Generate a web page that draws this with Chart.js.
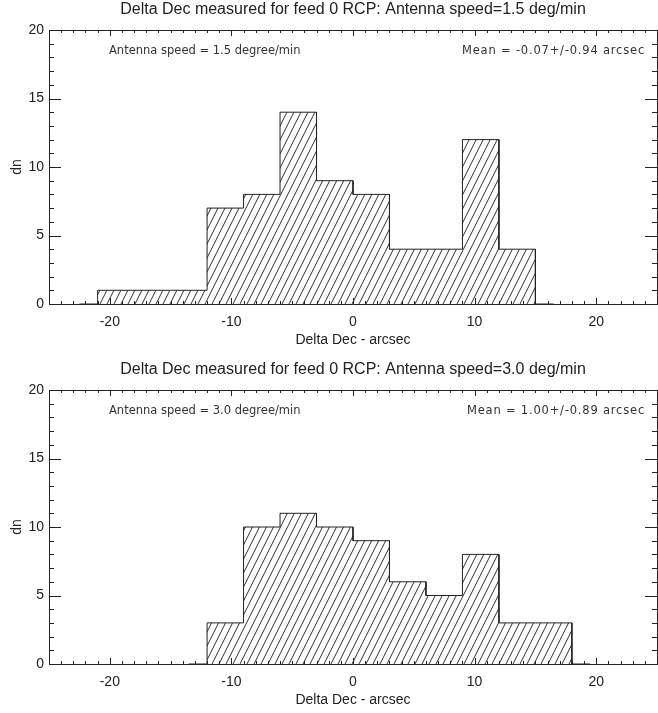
<!DOCTYPE html>
<html>
<head>
<meta charset="utf-8">
<script src="https://cdn.jsdelivr.net/npm/chart.js@4.4.1/dist/chart.umd.min.js"></script>
<style>
  html, body { margin: 0; padding: 0; background: #fff; width: 658px; height: 713px; overflow: hidden; }
  .panel { position: absolute; left: 0; width: 658px; height: 360px; }
  #p1 { top: 0; }
  #p2 { top: 360px; }
</style>
</head>
<body>
<div class="panel" id="p1"><canvas id="c1" width="658" height="360"></canvas></div>
<div class="panel" id="p2"><canvas id="c2" width="658" height="360"></canvas></div>
<script>
// ---- data ----
const binWidth = 3;
const edgesTop = [-21, -18, -15, -12, -9, -6, -3, 0, 3, 6, 9, 12];
const countsTop = [1, 1, 1, 7, 8, 14, 9, 8, 4, 4, 12, 4];
const edgesBottom = [-12, -9, -6, -3, 0, 3, 6, 9, 12, 15];
const countsBottom = [3, 10, 11, 10, 9, 6, 5, 8, 3, 3];
const xTickValues = [-20, -10, 0, 10, 20];
const yTickValues = [0, 5, 10, 15, 20];
const xRange = [-25, 25];
const yRange = [0, 20];
const titles = [
  'Delta Dec measured for feed 0 RCP: Antenna speed=1.5 deg/min',
  'Delta Dec measured for feed 0 RCP: Antenna speed=3.0 deg/min'
];
const speedNotes = ['Antenna speed = 1.5 degree/min', 'Antenna speed = 3.0 degree/min'];
const meanNotes = ['Mean = -0.07+/-0.94 arcsec', 'Mean = 1.00+/-0.89 arcsec'];
const xTitle = 'Delta Dec - arcsec';
const yTitle = 'dn';

const INK = '#222';
const NARROW = "'Liberation Sans Narrow', 'Arial Narrow', 'Liberation Sans', Arial, sans-serif";

function hatchPattern(ctx) {
  const w = 7, h = 14;
  const t = document.createElement('canvas');
  t.width = w; t.height = h;
  const g = t.getContext('2d');
  g.strokeStyle = '#333';
  g.lineWidth = 1;
  g.beginPath();
  for (let k = -1; k <= 1; k++) {
    g.moveTo(k * w, h);
    g.lineTo(k * w + w, 0);
  }
  g.stroke();
  return ctx.createPattern(t, 'repeat');
}

// histogram outline (step) built from bin edges and counts
function outline(edges, counts) {
  const pts = [{ x: edges[0] - binWidth / 2, y: 0 }, { x: edges[0], y: 0 }];
  for (let i = 0; i < counts.length; i++) {
    pts.push({ x: edges[i], y: counts[i] });
    pts.push({ x: edges[i] + binWidth, y: counts[i] });
  }
  const last = edges[edges.length - 1] + binWidth;
  pts.push({ x: last, y: 0 });
  pts.push({ x: last + binWidth / 2, y: 0 });
  return pts;
}

const inwardTicks = {
  id: 'inwardTicks',
  afterDatasetsDraw(chart, args, opts) {
    const { ctx, chartArea: a, scales } = chart;
    const xs = scales.x, ys = scales.y;
    ctx.save();
    ctx.strokeStyle = INK;
    ctx.lineWidth = 1;
    ctx.beginPath();
    for (let v = xRange[0]; v <= xRange[1]; v++) {
      const px = Math.round(xs.getPixelForValue(v)) + 0.5;
      const len = (v % 10 === 0) ? 6 : 3;
      ctx.moveTo(px, a.bottom); ctx.lineTo(px, a.bottom - len);
      ctx.moveTo(px, a.top); ctx.lineTo(px, a.top + len);
    }
    for (let v = yRange[0]; v <= yRange[1]; v++) {
      const py = Math.round(ys.getPixelForValue(v)) + 0.5;
      const len = (v % 5 === 0) ? 12 : 5;
      ctx.moveTo(a.left, py); ctx.lineTo(a.left + len, py);
      ctx.moveTo(a.right, py); ctx.lineTo(a.right - len, py);
    }
    ctx.stroke();
    // annotations
    ctx.fillStyle = '#333';
    ctx.font = "11.5px 'DejaVu Sans', sans-serif";
    ctx.textBaseline = 'middle';
    ctx.textAlign = 'left';
    ctx.fillText(opts.left, a.left + 60, a.top + 21);
    ctx.textAlign = 'right';
    try { ctx.letterSpacing = '0.8px'; } catch (e) {}
    ctx.fillText(opts.right, a.right - 12, a.top + 21);
    ctx.restore();
  }
};

function makeChart(id, idx, edges, counts) {
  const canvas = document.getElementById(id);
  const ctx = canvas.getContext('2d');
  return new Chart(ctx, {
    type: 'line',
    data: {
      datasets: [{
        data: outline(edges, counts),
        borderColor: INK,
        borderWidth: 1,
        pointRadius: 0,
        fill: 'origin',
        backgroundColor: hatchPattern(ctx),
        tension: 0
      }]
    },
    options: {
      responsive: false,
      animation: false,
      devicePixelRatio: 1,
      layout: { padding: 0 },
      plugins: {
        legend: { display: false },
        tooltip: { enabled: false },
        title: { display: false },
        inwardTicks: { left: speedNotes[idx], right: meanNotes[idx] }
      },
      scales: {
        x: {
          type: 'linear', position: 'bottom', min: xRange[0], max: xRange[1],
          grid: { display: false, drawTicks: false },
          border: { display: true, color: INK, width: 1 },
          afterBuildTicks: s => { s.ticks = xTickValues.map(v => ({ value: v })); },
          afterFit: s => { s.height = 56; },
          ticks: { color: '#222', font: { family: NARROW, size: 14 }, padding: 10, maxRotation: 0 },
          title: { display: true, text: xTitle, color: '#222', font: { family: NARROW, size: 14 }, padding: { top: 0, bottom: 11.6 } }
        },
        x2: {
          type: 'linear', position: 'top', min: xRange[0], max: xRange[1],
          grid: { display: false, drawTicks: false },
          border: { display: true, color: INK, width: 1 },
          ticks: { display: false },
          afterFit: s => { s.height = 30; },
          title: { display: true, text: titles[idx], color: '#222', font: { family: NARROW, size: 16 }, padding: { top: 0, bottom: 0 } }
        },
        y: {
          type: 'linear', position: 'left', min: yRange[0], max: yRange[1],
          grid: { display: false, drawTicks: false },
          border: { display: true, color: INK, width: 1 },
          afterBuildTicks: s => { s.ticks = yTickValues.map(v => ({ value: v })); },
          afterFit: s => { s.width = 49; },
          ticks: { color: '#222', font: { family: NARROW, size: 14 }, padding: 5 },
          title: { display: true, text: yTitle, color: '#222', font: { family: NARROW, size: 14 }, padding: { top: 8.6, bottom: 0 } }
        },
        y2: {
          type: 'linear', position: 'right', min: yRange[0], max: yRange[1],
          grid: { display: false, drawTicks: false },
          border: { display: true, color: INK, width: 1 },
          ticks: { display: false },
          afterFit: s => { s.width = 1; }
        }
      }
    },
    plugins: [inwardTicks]
  });
}

makeChart('c1', 0, edgesTop, countsTop);
makeChart('c2', 1, edgesBottom, countsBottom);
</script>
</body>
</html>
